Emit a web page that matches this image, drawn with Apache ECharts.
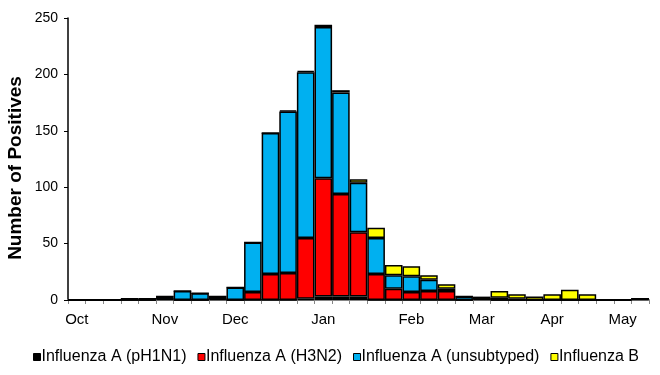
<!DOCTYPE html>
<html>
<head>
<meta charset="utf-8">
<script src="https://cdn.jsdelivr.net/npm/echarts@6/dist/echarts.min.js"></script>
<style>html,body{margin:0;padding:0;background:#fff;}#c{width:660px;height:375px;}</style>
</head>
<body>
<div id="c"></div>
<script>
// 33 weekly categories, October through May
var weeks = ['W40','W41','W42','W43','W44','W45','W46','W47','W48','W49','W50','W51','W52','W1','W2','W3','W4','W5','W6','W7','W8','W9','W10','W11','W12','W13','W14','W15','W16','W17','W18','W19','W20'];
var monthNames = ['Oct','Nov','Dec','Jan','Feb','Mar','Apr','May'];
var monthWeekIndex = [0,5,9,14,19,23,27,31];
var seriesNames = ['Influenza A (pH1N1)','Influenza A (H3N2)','Influenza A (unsubtyped)','Influenza B'];
var pH1N1 =      [0,0,0,0,0,1,0,0,1,0,0,0,0,1,3,3,3,0,0,0,0,0,0,1,0,0,0,0,0,0,0,0,1];
var h3n2 =       [0,0,0,0,0,0,0,0,0,0,7,23,24,54,105,91,57,23,10,7,8,8,0,0,0,0,0,0,0,0,0,0,0];
var unsubtyped = [0,0,0,1,1,2,8,6,2,11,44,125,143,147,134,90,44,32,12,14,10,2,3,0,2,1,0,0,0,0,0,0,0];
var fluB =       [0,0,0,0,0,0,0,0,0,0,0,0,1,1,2,2,3,9,9,9,4,4,0,2,6,4,3,5,9,5,0,0,0];

var colors = ['#000000','#FF0000','#00B0F0','#FFFF00'];
var seriesData = [pH1N1, h3n2, unsubtyped, fluB];
var FONT = 'Liberation Sans, Arial, sans-serif';

var chart = echarts.init(document.getElementById('c'));
chart.setOption({
  animation: false,
  grid: {left: 68, right: 11, top: 18, bottom: 75, containLabel: false},
  legend: {
    top: 344, left: 28,
    icon: 'rect', itemWidth: 7, itemHeight: 7, itemGap: 11,
    itemStyle: {borderColor: '#000', borderWidth: 1},
    textStyle: {fontFamily: FONT, fontSize: 16, color: '#000', padding: [0,0,0,-4]},
    data: seriesNames
  },
  xAxis: {
    type: 'category', data: weeks, boundaryGap: true,
    axisLine: {lineStyle: {color: '#868686', width: 2}},
    axisTick: {show: true, interval: 0, length: 4, lineStyle: {color: '#868686', width: 1}},
    axisLabel: {
      interval: 0, margin: 12, color: '#000', fontFamily: FONT, fontSize: 15,
      formatter: function (v, i) { var k = monthWeekIndex.indexOf(i); return k >= 0 ? monthNames[k] : ''; }
    },
    splitLine: {show: false}
  },
  yAxis: {
    type: 'value', min: 0, max: 250, interval: 50,
    axisLine: {show: true, lineStyle: {color: '#000', width: 1.5}},
    axisTick: {show: true, length: 4, lineStyle: {color: '#000'}},
    axisLabel: {margin: 10, color: '#000', fontFamily: FONT, fontSize: 14},
    splitLine: {show: false}
  },
  graphic: [{
    type: 'text', x: 16, y: 168, rotation: Math.PI / 2,
    style: {text: 'Number of Positives', font: 'bold 19px ' + FONT, fill: '#000', align: 'center', verticalAlign: 'middle'}
  }],
  series: seriesNames.map(function (n, k) {
    return {
      name: n, type: 'bar', stack: 'all', data: seriesData[k],
      barCategoryGap: '0%',
      itemStyle: {color: colors[k], borderColor: '#000', borderWidth: 1.5},
      emphasis: {disabled: true}
    };
  })
});
</script>
</body>
</html>
